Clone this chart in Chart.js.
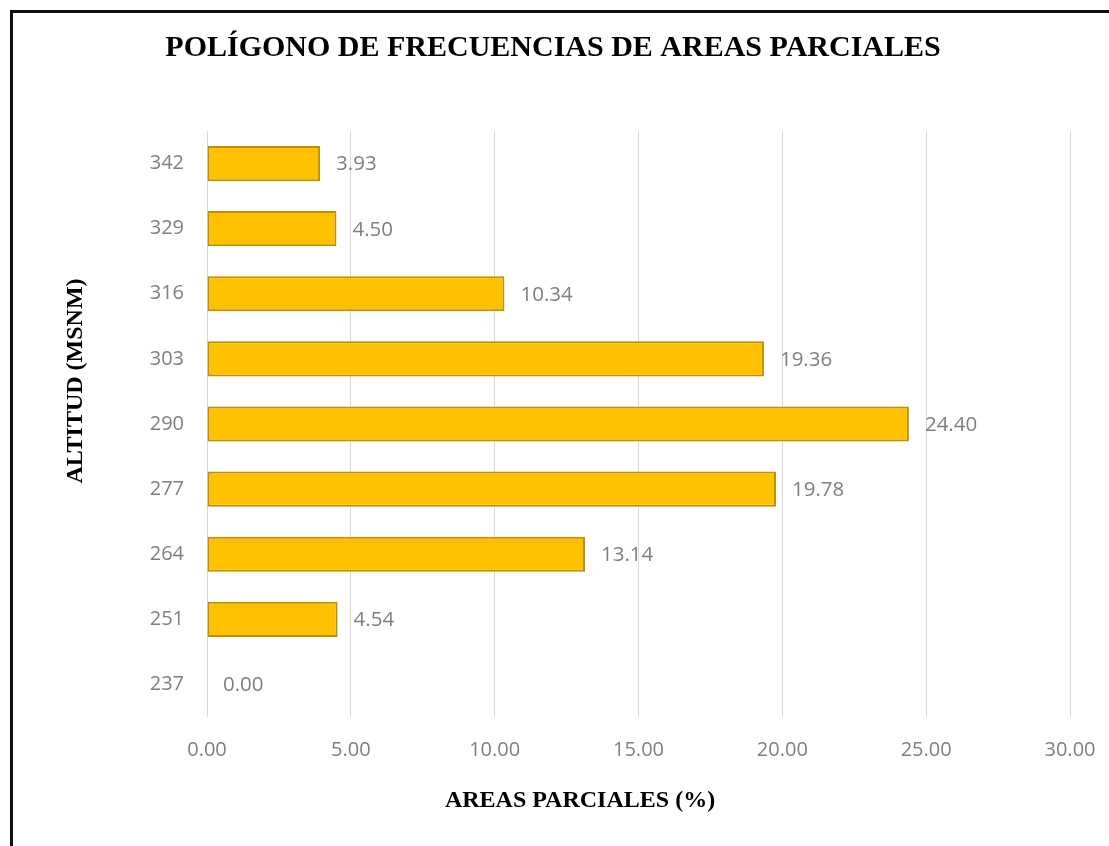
<!DOCTYPE html>
<html>
<head>
<meta charset="utf-8">
<script src="https://cdn.jsdelivr.net/npm/chart.js@4.4.1/dist/chart.umd.min.js"></script>
<style>
  html, body { margin: 0; padding: 0; background: #fff; overflow: hidden; }
  #marco {
    position: absolute; left: 10px; top: 10px; width: 1200px; height: 900px;
    border-left: 3px solid #111; border-top: 3px solid #111;
  }
  #lienzo { position: absolute; left: 0; top: 0; }
</style>
</head>
<body>
<div id="marco"></div>
<canvas id="lienzo" width="1109" height="846"></canvas>
<script>
// datos (de abajo hacia arriba)
const altitudes = ["237", "251", "264", "277", "290", "303", "316", "329", "342"];
const areasParciales = [0.00, 4.54, 13.14, 19.78, 24.40, 19.36, 10.34, 4.50, 3.93];
const ticksX = [0, 5, 10, 15, 20, 25, 30];

const titulo = "POLÍGONO DE FRECUENCIAS DE AREAS PARCIALES";
const tituloX = "AREAS PARCIALES (%)";
const tituloY = "ALTITUD (MSNM)";

const gris = "#7f7f7f";
const fuenteNum = "'Open Sans', sans-serif";
const fuenteSerif = "'Liberation Serif', 'Times New Roman', serif";

// etiquetas de valor y titulos de ejes
const extras = {
  id: "extras",
  afterDatasetsDraw(chart) {
    const ctx = chart.ctx;
    const meta = chart.getDatasetMeta(0);
    ctx.save();
    ctx.fillStyle = gris;
    ctx.font = "20.5px " + fuenteNum;
    ctx.textAlign = "left";
    ctx.textBaseline = "middle";
    meta.data.forEach((barra, i) => {
      ctx.fillText(areasParciales[i].toFixed(2), barra.x + 16, barra.y + 1);
    });
    ctx.restore();
  },
  afterDraw(chart) {
    const ctx = chart.ctx;
    ctx.save();
    ctx.fillStyle = "#000";
    ctx.font = "bold 24px " + fuenteSerif;
    ctx.textAlign = "center";
    ctx.textBaseline = "middle";
    ctx.fillText(tituloX, 580, 801);
    ctx.translate(76, 381);
    ctx.rotate(-Math.PI / 2);
    ctx.fillText(tituloY, 0, 0);
    ctx.restore();
  }
};

new Chart(document.getElementById("lienzo"), {
  type: "bar",
  data: {
    labels: altitudes,
    datasets: [{
      data: areasParciales,
      backgroundColor: "#FFC000",
      borderColor: "#BF9000",
      borderWidth: 2,
      borderSkipped: false,
      categoryPercentage: 1,
      barPercentage: 0.54
    }]
  },
  options: {
    indexAxis: "y",
    responsive: false,
    animation: false,
    layout: { padding: { left: 36, right: 39, top: 0, bottom: 0 } },
    plugins: {
      legend: { display: false },
      tooltip: { enabled: false },
      title: {
        display: true,
        text: titulo,
        color: "#000",
        font: { family: fuenteSerif, size: 30, weight: "bold" },
        padding: { top: 30, bottom: 65 }
      }
    },
    scales: {
      x: {
        min: 0,
        max: 30,
        afterBuildTicks(scale) { scale.ticks = ticksX.map(v => ({ value: v })); },
        afterFit(scale) {
          scale.height = 129;
          scale.paddingLeft = 0;
          scale.paddingRight = 0;
        },
        grid: { color: "#d9d9d9", lineWidth: 1, drawTicks: false },
        border: { display: false },
        ticks: {
          color: gris,
          padding: 21,
          font: { family: fuenteNum, size: 20 },
          callback: v => Number(v).toFixed(2)
        }
      },
      y: {
        reverse: true,
        afterFit(scale) { scale.width = 171; },
        grid: { display: false, drawTicks: false },
        border: { display: false },
        ticks: {
          color: gris,
          padding: 23,
          font: { family: fuenteNum, size: 20 }
        }
      }
    }
  },
  plugins: [extras]
});
</script>
</body>
</html>
